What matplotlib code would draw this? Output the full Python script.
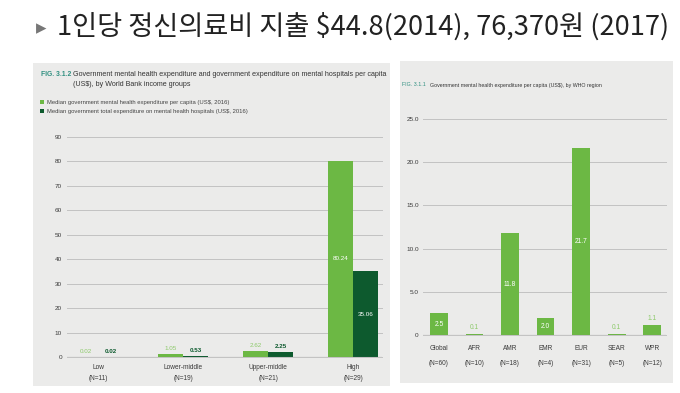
import matplotlib
matplotlib.use("Agg")
import matplotlib.pyplot as plt
from matplotlib.patches import Rectangle
import numpy as np

# ---------------- data ----------------
income_groups = ["Low", "Lower-middle", "Upper-middle", "High"]
income_n = ["(N=11)", "(N=19)", "(N=21)", "(N=29)"]
mh_per_capita = [0.02, 1.05, 2.62, 80.24]
hospital_per_capita = [0.02, 0.53, 2.25, 35.06]
left_yticks = [0, 10, 20, 30, 40, 50, 60, 70, 80, 90]

regions = ["Global", "AFR", "AMR", "EMR", "EUR", "SEAR", "WPR"]
region_n = ["(N=60)", "(N=10)", "(N=18)", "(N=4)", "(N=31)", "(N=5)", "(N=12)"]
region_values = [2.5, 0.1, 11.8, 2.0, 21.7, 0.1, 1.1]
right_yticks = [0, 5.0, 10.0, 15.0, 20.0, 25.0]
right_ytick_labels = ["0", "5.0", "10.0", "15.0", "20.0", "25.0"]

title = "1인당 정신의료비 지출 $44.8(2014), 76,370원 (2017)"
left_fig = "FIG. 3.1.2"
left_title1 = "Government mental health expenditure and government expenditure on mental hospitals per capita"
left_title2 = "(US$), by World Bank income groups"
legend_labels = ["Median government mental health expenditure per capita (US$, 2016)",
                 "Median government total expenditure on mental health hospitals (US$, 2016)"]
right_fig = "FIG. 3.1.1"
right_title = "Government mental health expenditure per capita (US$), by WHO region"

# ---------------- style ----------------
W, H = 680, 393
LIGHT = "#6cb844"
DARK = "#0d5a2e"
LIGHT_TXT = "#8cc96a"
PANEL = "#ebebea"
GRID = "#c2c2c2"
TEAL = "#2f8f80"
TXT = "#3a3a3a"

plt.rcParams["font.family"] = ["Liberation Sans", "DejaVu Sans"]

fig = plt.figure(figsize=(W / 100, H / 100), dpi=100, facecolor="white")


def fx(px):
    return px / W


def fy(py):
    return 1 - py / H


# panels (background)
fig.patches.append(Rectangle((fx(33), fy(386)), fx(357), 323 / H, transform=fig.transFigure,
                             facecolor=PANEL, edgecolor="none", zorder=-10))
fig.patches.append(Rectangle((fx(400), fy(383)), fx(273), 322 / H, transform=fig.transFigure,
                             facecolor=PANEL, edgecolor="none", zorder=-10))

# main title
fig.text(fx(36), fy(28), "▸", fontsize=15, color="#777777", va="center", ha="left",
         family=["DejaVu Sans"])
fig.text(fx(57), fy(27), title, fontsize=19.6, color="#222222", va="center", ha="left",
         family=["Noto Sans CJK KR", "DejaVu Sans"])

# ---------------- left chart ----------------
axl = fig.add_axes([fx(67), fy(357), fx(382 - 67), (357 - 137) / H])
axl.set_facecolor("none")
x = np.arange(len(income_groups))
bw = 0.294
b1 = axl.bar(x - bw / 2, mh_per_capita, bw, color=LIGHT, zorder=3, label=legend_labels[0])
b2 = axl.bar(x + bw / 2, hospital_per_capita, bw, color=DARK, zorder=3, label=legend_labels[1])
axl.set_xlim(-0.365, 3.34)
axl.set_ylim(0, 90)
axl.set_yticks(left_yticks)
axl.set_yticklabels([str(v) for v in left_yticks])
axl.tick_params(axis="y", length=0, pad=3.5, labelsize=4.6, labelcolor=TXT)
axl.set_xticks([])
axl.grid(axis="y", color=GRID, linewidth=0.7, zorder=1, clip_on=False)
for s in axl.spines.values():
    s.set_visible(False)
axl.axhline(0, color="#8a8a8a", linewidth=0.8, zorder=4)
for i in range(len(income_groups)):
    axl.text(x[i], -2.8, income_groups[i], ha="center", va="top", fontsize=4.7, color=TXT)
    axl.text(x[i], -7.3, income_n[i], ha="center", va="top", fontsize=4.7, color=TXT)
    v1, v2 = mh_per_capita[i], hospital_per_capita[i]
    if v1 > 20:
        axl.text(x[i] - bw / 2, v1 / 2, f"{v1:.2f}", ha="center", va="center", fontsize=4.5,
                 color="white", zorder=5)
    else:
        axl.text(x[i] - bw / 2, v1 + 1.2, f"{v1:.2f}", ha="center", va="bottom", fontsize=4.5,
                 color=LIGHT_TXT, zorder=5)
    if v2 > 20:
        axl.text(x[i] + bw / 2, v2 / 2, f"{v2:.2f}", ha="center", va="center", fontsize=4.5,
                 color="white", zorder=5)
    else:
        axl.text(x[i] + bw / 2, v2 + 1.2, f"{v2:.2f}", ha="center", va="bottom", fontsize=4.5,
                 color=DARK, fontweight="bold", zorder=5)

fig.text(fx(41), fy(75), left_fig, fontsize=4.9, color=TEAL, fontweight="bold", va="center")
fig.text(fx(73), fy(75), left_title1, fontsize=5.1, color="#333333", va="center")
fig.text(fx(73), fy(85), left_title2, fontsize=5.1, color="#333333", va="center")
fig.legend(handles=[b1, b2], labels=legend_labels, loc="upper left",
           bbox_to_anchor=(fx(37), fy(97)), frameon=False, fontsize=4.2,
           handlelength=0.7, handleheight=0.7, handletextpad=0.5, labelspacing=0.75,
           borderpad=0, labelcolor="#444444")

# ---------------- right chart ----------------
axr = fig.add_axes([fx(423), fy(335), fx(666 - 423), (335 - 119) / H])
axr.set_facecolor("none")
xr = np.arange(len(regions))
axr.bar(xr, region_values, 0.5, color=LIGHT, zorder=3)
axr.set_xlim(-0.45, 6.39)
axr.set_ylim(0, 25)
axr.set_yticks(right_yticks)
axr.set_yticklabels(right_ytick_labels)
axr.tick_params(axis="y", length=0, pad=3, labelsize=4.6, labelcolor=TXT)
axr.set_xticks([])
axr.grid(axis="y", color=GRID, linewidth=0.7, zorder=1, clip_on=False)
for s in axr.spines.values():
    s.set_visible(False)
axr.axhline(0, color="#8a8a8a", linewidth=0.8, zorder=4)
for i in range(len(regions)):
    axr.text(xr[i], -1.1, regions[i], ha="center", va="top", fontsize=4.7, color=TXT)
    axr.text(xr[i], -2.9, region_n[i], ha="center", va="top", fontsize=4.7, color=TXT)
    v = region_values[i]
    if v >= 2:
        axr.text(xr[i], v / 2, f"{v:.1f}", ha="center", va="center", fontsize=4.8,
                 color="white", zorder=5)
    else:
        axr.text(xr[i], v + 0.35, f"{v:.1f}", ha="center", va="bottom", fontsize=4.8,
                 color=LIGHT_TXT, zorder=5)

fig.text(fx(402), fy(85), right_fig, fontsize=3.8, color=TEAL, va="center")
fig.text(fx(430), fy(85), right_title, fontsize=3.8, color="#333333", va="center")

fig.savefig("out.png", dpi=100, facecolor="white")
